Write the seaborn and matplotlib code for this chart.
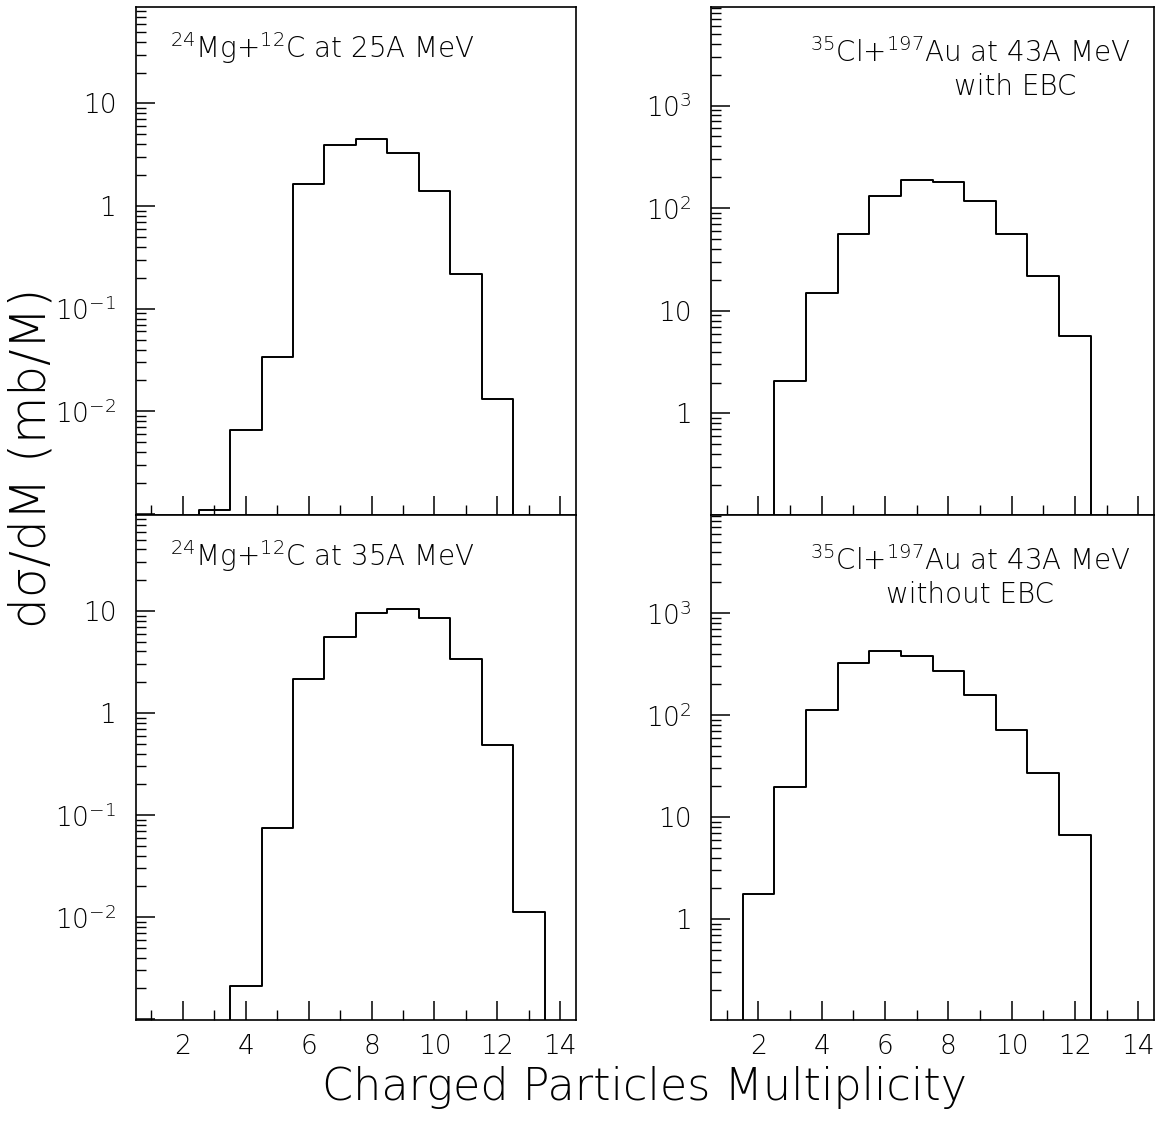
import numpy as np
import pandas as pd
import matplotlib
matplotlib.use("Agg")
import matplotlib.pyplot as plt
from matplotlib.ticker import FixedLocator, FuncFormatter, LogLocator, NullFormatter
import seaborn as sns

# ---------------- data ----------------
multiplicity = [1, 2, 3, 4, 5, 6, 7, 8, 9, 10, 11, 12, 13, 14]
bin_edges = [0.5, 1.5, 2.5, 3.5, 4.5, 5.5, 6.5, 7.5, 8.5, 9.5, 10.5, 11.5, 12.5, 13.5, 14.5]

mg_25 = [0, 0, 1.1e-3, 6.6e-3, 0.0336, 1.65, 3.93, 4.53, 3.26, 1.40, 0.216, 0.0133, 0, 0]
mg_35 = [0, 0, 0, 2.1e-3, 0.075, 2.17, 5.6, 9.6, 10.5, 8.6, 3.4, 0.49, 0.0112, 0]
cl_with_ebc = [0, 0, 2.08, 14.9, 56.6, 132, 187, 178, 118, 55.8, 21.6, 5.62, 0, 0]
cl_without_ebc = [0, 1.76, 19.8, 113, 325, 423, 379, 272, 158, 71.6, 27.0, 6.68, 0, 0]

x_ticks_major = [2, 4, 6, 8, 10, 12, 14]
x_ticks_minor = [1, 3, 5, 7, 9, 11, 13]
left_labelled = [1e-2, 1e-1, 1, 10]
right_labelled = [1, 10, 1e2, 1e3]

title_tl = r"$^{24}$Mg+$^{12}$C at 25A MeV"
title_bl = r"$^{24}$Mg+$^{12}$C at 35A MeV"
title_tr = r"$^{35}$Cl+$^{197}$Au at 43A MeV"
title_tr2 = "with EBC"
title_br = r"$^{35}$Cl+$^{197}$Au at 43A MeV"
title_br2 = "without EBC"

y_label = "dσ/dM (mb/M)"
x_label = "Charged Particles Multiplicity"

# ---------------- style ----------------
sns.set_style("white")
plt.rcParams["font.family"] = ["DejaVu Sans"]
plt.rcParams["font.weight"] = "light"
plt.rcParams["mathtext.fontset"] = "custom"
plt.rcParams["mathtext.rm"] = "DejaVu Sans:light"
plt.rcParams["mathtext.it"] = "DejaVu Sans:light"
plt.rcParams["mathtext.default"] = "regular"
plt.rcParams["text.color"] = "black"
plt.rcParams["axes.edgecolor"] = "black"
plt.rcParams["xtick.color"] = "black"
plt.rcParams["ytick.color"] = "black"
plt.rcParams["axes.linewidth"] = 1.2

W, H = 1166, 1137
fig = plt.figure(figsize=(W / 100, H / 100), dpi=100)
fig.patch.set_facecolor("white")


def px_axes(x0, x1, ytop, ybot):
    return fig.add_axes([x0 / W, 1 - ybot / H, (x1 - x0) / W, (ybot - ytop) / H])


ax_tl = px_axes(135.7, 576, 7, 515)
ax_bl = px_axes(135.7, 576, 515, 1020)
ax_tr = px_axes(711, 1154, 7, 515)
ax_br = px_axes(711, 1154, 515, 1020)


def make_fmt(allowed):
    def yfmt(v, pos):
        if not any(abs(np.log10(v) - np.log10(a)) < 1e-6 for a in allowed):
            return ""
        e = int(round(np.log10(v)))
        if e == 0:
            return "1"
        if e == 1:
            return "10"
        return r"$10^{%d}$" % e
    return yfmt


def draw(ax, values, ylim, allowed, show_xlabels):
    df = pd.DataFrame({"M": multiplicity, "w": values})
    sns.histplot(data=df, x="M", weights="w", bins=bin_edges, element="step",
                 fill=False, color="black", linewidth=1.4, ax=ax)
    ax.set_yscale("log")
    ax.set_xlim(0.5, 14.5)
    ax.set_ylim(*ylim)
    ax.set_xlabel("")
    ax.set_ylabel("")
    ax.xaxis.set_major_locator(FixedLocator(x_ticks_major))
    ax.xaxis.set_minor_locator(FixedLocator(x_ticks_minor))
    ax.yaxis.set_major_locator(LogLocator(base=10, numticks=20))
    ax.yaxis.set_minor_locator(LogLocator(base=10, subs=np.arange(2, 10), numticks=20))
    ax.yaxis.set_major_formatter(FuncFormatter(make_fmt(allowed)))
    ax.yaxis.set_minor_formatter(NullFormatter())
    ax.tick_params(axis="both", which="both", direction="in", colors="black",
                   top=False, right=False, left=True, bottom=True)
    ax.tick_params(axis="both", which="major", length=14, width=1.1, labelsize=19)
    ax.tick_params(axis="both", which="minor", length=7.5, width=1.0)
    ax.tick_params(axis="y", which="major", pad=14)
    ax.tick_params(axis="x", which="major", pad=10, labelbottom=show_xlabels)
    for s in ax.spines.values():
        s.set_color("black")
        s.set_linewidth(1.2)
        s.set_visible(True)
    ax.set_facecolor("white")


left_lim = (10 ** -3.01, 10 ** 1.94)
right_lim = (10 ** -0.99, 10 ** 3.96)

draw(ax_tl, mg_25, left_lim, left_labelled, False)
draw(ax_bl, mg_35, left_lim, left_labelled, True)
draw(ax_tr, cl_with_ebc, right_lim, right_labelled, False)
draw(ax_br, cl_without_ebc, right_lim, right_labelled, True)

fs = 20
ax_tl.text(0.078, 0.90, title_tl, transform=ax_tl.transAxes, fontsize=fs, ha="left", va="baseline")
ax_bl.text(0.078, 0.899, title_bl, transform=ax_bl.transAxes, fontsize=fs, ha="left", va="baseline")
ax_tr.text(0.585, 0.892, title_tr, transform=ax_tr.transAxes, fontsize=fs, ha="center", va="baseline")
ax_tr.text(0.686, 0.827, title_tr2, transform=ax_tr.transAxes, fontsize=fs, ha="center", va="baseline")
ax_br.text(0.585, 0.891, title_br, transform=ax_br.transAxes, fontsize=fs, ha="center", va="baseline")
ax_br.text(0.585, 0.826, title_br2, transform=ax_br.transAxes, fontsize=fs, ha="center", va="baseline")

fig.text(32 / W, 1 - 458 / H, y_label, rotation=90, fontsize=35, ha="center", va="center")
fig.text(645 / W, 1 - 1100 / H, x_label, fontsize=32, ha="center", va="baseline")

fig.savefig("out.png", dpi=100, facecolor="white")
